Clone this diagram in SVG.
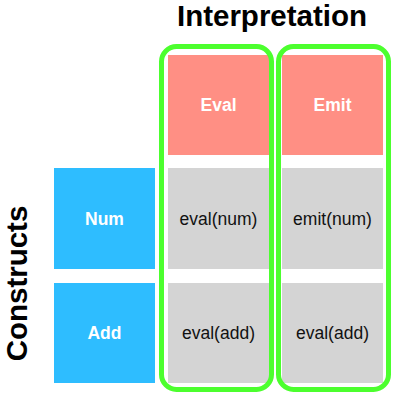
<svg xmlns="http://www.w3.org/2000/svg" width="400" height="400" viewBox="0 0 400 400">
<style>
.title{font-family:"Liberation Sans",Arial,sans-serif;font-weight:bold;font-size:29.5px;fill:#000}
.hdr{font-family:"Liberation Sans",Arial,sans-serif;font-weight:bold;font-size:17.5px;fill:#fff;text-anchor:middle;dominant-baseline:central}
.cell{font-family:"Liberation Sans",Arial,sans-serif;font-size:17.5px;fill:#111;text-anchor:middle;dominant-baseline:central}
.red{fill:#FF8F84}
.blue{fill:#2EBDFF}
.gray{fill:#D4D4D4}
.grp{fill:none;stroke:#4CFF2E;stroke-width:5}
</style>
<text class="title" x="272" y="26" text-anchor="middle">Interpretation</text>
<text class="title" transform="translate(27,283.5) rotate(-90)" text-anchor="middle">Constructs</text>
<g id="eval"><rect class="red" x="168" y="55" width="101" height="100"/><text class="hdr" x="218.5" y="105">Eval</text></g>
<g id="emit"><rect class="red" x="282" y="55" width="101" height="100"/><text class="hdr" x="332.5" y="105">Emit</text></g>
<g id="num"><rect class="blue" x="54" y="168" width="101" height="101"/><text class="hdr" x="104.5" y="218.5">Num</text></g>
<g id="add"><rect class="blue" x="54" y="283" width="101" height="100"/><text class="hdr" x="104.5" y="333">Add</text></g>
<g id="eval-num"><rect class="gray" x="168" y="168" width="101" height="101"/><text class="cell" x="218.5" y="218.5">eval(num)</text></g>
<g id="emit-num"><rect class="gray" x="282" y="168" width="101" height="101"/><text class="cell" x="332.5" y="218.5">emit(num)</text></g>
<g id="eval-add"><rect class="gray" x="168" y="283" width="101" height="100"/><text class="cell" x="218.5" y="333">eval(add)</text></g>
<g id="emit-add"><rect class="gray" x="282" y="283" width="101" height="100"/><text class="cell" x="332.5" y="333">eval(add)</text></g>
<g id="group-eval"><rect class="grp" x="161.5" y="46.5" width="110" height="343" rx="15"/></g>
<g id="group-emit"><rect class="grp" x="278.5" y="46.5" width="110" height="343" rx="15"/></g>
</svg>
